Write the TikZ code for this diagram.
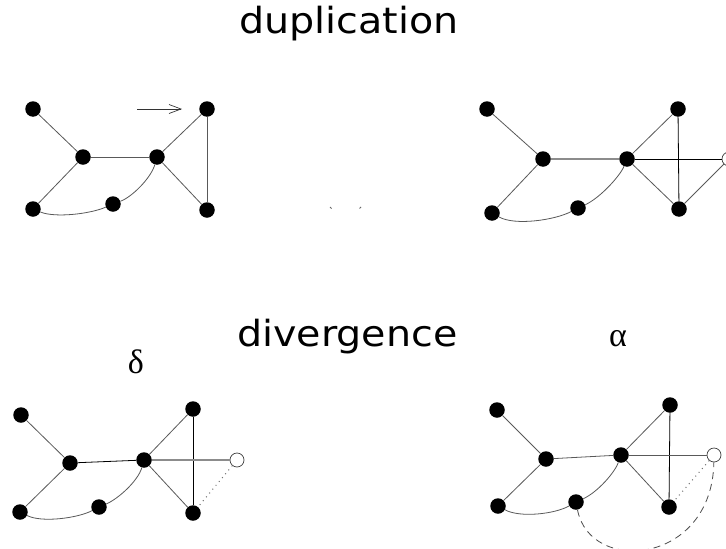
\documentclass[tikz,border=0pt]{standalone}
\usepackage{fontspec}
\setmainfont{DejaVu Sans}
\newfontfamily\greekfont{Liberation Serif}
\usetikzlibrary{arrows.meta}
\tikzset{
  dot/.style={circle,fill=black,inner sep=0pt,minimum size=15.5pt},
  odot/.style={circle,draw=black!75,fill=white,inner sep=0pt,minimum size=14pt,line width=0.7pt},
  edge/.style={draw=black!65,line width=0.8pt},
  dark/.style={draw=black,line width=0.8pt},
  light/.style={draw=black!45,line width=1.1pt},
  dotline/.style={draw=black!55,line width=1pt,dash pattern=on 1pt off 4pt},
  dashline/.style={draw=black!70,line width=0.8pt,dash pattern=on 7pt off 5pt},
  title/.style={font=\fontsize{36}{40}\selectfont,inner sep=0pt,anchor=base west},
  greek/.style={font=\greekfont\fontsize{34}{38}\selectfont,inner sep=0pt}
}
\begin{document}
\begin{tikzpicture}[x=1pt,y=-1pt]
\useasboundingbox (0,0) rectangle (726,549);
\fill[white] (0,0) rectangle (726,549);

% titles
\node[title] (t1) at (239,33) {\scalebox{1.1}[1]{duplication}};
\node[title] (t2) at (237,346) {\scalebox{1.1}[1]{divergence}};
\node[greek] (delta) at (136,362) {δ};
\node[greek] (alpha) at (618,339) {α};

% ---------- top left ----------
\node[dot] (a1) at (33,109) {};
\node[dot] (b1) at (83,157) {};
\node[dot] (c1) at (157,157) {};
\node[dot] (d1) at (207,109) {};
\node[dot] (e1) at (207,210) {};
\node[dot] (f1) at (33,209) {};
\node[dot] (g1) at (113,204) {};
\draw[edge] (a1) -- (b1);
\draw[edge] (b1) -- (c1);
\draw[edge] (b1) -- (f1);
\draw[edge] (c1) -- (d1);
\draw[edge] (c1) -- (e1);
\draw[edge] (d1) -- (e1);
\draw[edge] (f1) .. controls (55,218) and (90,214) .. (g1);
\draw[edge] (g1) .. controls (132,197) and (151,178) .. (c1);
\coordinate (ar1) at (137,109);
\coordinate (ar2) at (182,109);
\draw[draw=black!80,line width=0.7pt,-{Straight Barb[length=12pt,width=9pt,line width=0.7pt]}] (ar1) -- (ar2);
\coordinate (m1) at (330,207);
\coordinate (m2) at (361,207);
\draw[black!60,line width=0.8pt] (m1) -- ++(1.5,1.5);
\draw[black!60,line width=0.8pt] (m2) -- ++(-1.5,1.5);

% ---------- top right ----------
\node[dot] (a2) at (487,109) {};
\node[dot] (b2) at (543,159) {};
\node[dot] (c2) at (627,159) {};
\node[dot] (d2) at (678,109) {};
\node[dot] (e2) at (679,209) {};
\node[dot] (f2) at (492,213) {};
\node[dot] (g2) at (578,208) {};
\node[odot] (h2) at (729,159) {};
\draw[edge] (a2) -- (b2);
\draw[light] (b2) -- (c2);
\draw[edge] (b2) -- (f2);
\draw[edge] (c2) -- (d2);
\draw[edge] (c2) -- (e2);
\draw[dark] (d2) -- (e2);
\draw[dark] (c2) -- (h2);
\draw[edge] (h2) -- (e2);
\draw[edge] (f2) .. controls (515,226) and (555,220) .. (g2);
\draw[edge] (g2) .. controls (600,198) and (620,176) .. (c2);

% ---------- bottom left ----------
\node[dot] (a3) at (21,415) {};
\node[dot] (b3) at (70,463) {};
\node[dot] (c3) at (144,460) {};
\node[dot] (d3) at (193,409) {};
\node[dot] (e3) at (193,513) {};
\node[dot] (f3) at (20,512) {};
\node[dot] (g3) at (99,507) {};
\node[odot] (h3) at (237,460) {};
\draw[edge] (a3) -- (b3);
\draw[dark] (b3) -- (c3);
\draw[edge] (b3) -- (f3);
\draw[edge] (c3) -- (d3);
\draw[edge] (c3) -- (e3);
\draw[dark] (d3) -- (e3);
\draw[light] (c3) -- (h3);
\draw[dotline] (h3) -- (e3);
\draw[edge] (f3) .. controls (42,523) and (78,518) .. (g3);
\draw[edge] (g3) .. controls (118,499) and (138,481) .. (c3);

% ---------- bottom right ----------
\node[dot] (a4) at (497,410) {};
\node[dot] (b4) at (546,459) {};
\node[dot] (c4) at (621,455) {};
\node[dot] (d4) at (670,405) {};
\node[dot] (e4) at (669,507) {};
\node[dot] (f4) at (498,506) {};
\node[dot] (g4) at (576,502) {};
\node[odot] (h4) at (714,455) {};
\draw[edge] (a4) -- (b4);
\draw[edge] (b4) -- (c4);
\draw[edge] (b4) -- (f4);
\draw[edge] (c4) -- (d4);
\draw[edge] (c4) -- (e4);
\draw[dark] (d4) -- (e4);
\draw[edge] (c4) -- (h4);
\draw[dotline] (h4) -- (e4);
\draw[edge] (f4) .. controls (520,518) and (555,514) .. (g4);
\draw[edge] (g4) .. controls (598,492) and (615,472) .. (c4);
\draw[dashline] (g4) .. controls (590,575) and (712,565) .. (h4);
\end{tikzpicture}
\end{document}
